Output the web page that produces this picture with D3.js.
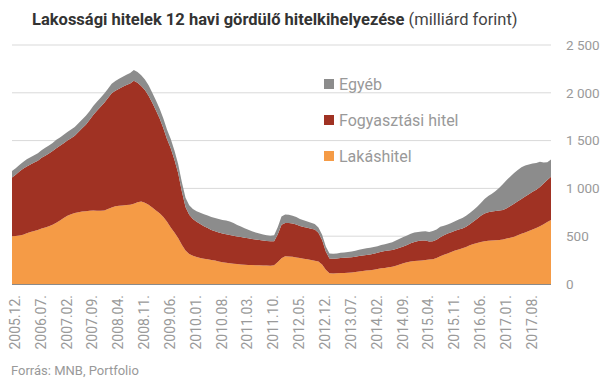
<!DOCTYPE html>
<html>
<head>
<meta charset="utf-8">
<script src="https://cdn.jsdelivr.net/npm/d3@7"></script>
<style>
  body { margin:0; background:#fff; font-family: Roboto, sans-serif; }
  .axis text { fill:#9a9a9a; font-size:13.5px; font-family: Roboto, sans-serif; }
  .xax text { font-size:14px; }
</style>
</head>
<body>
<div id="chart"></div>
<script>
// monthly rolling 12-month lending, 2005.12 .. 2018.02 (billion HUF)
const lakashitel = [
  500,503,508,515,530,545,555,565,580,592,605,620,
  640,665,690,715,730,742,750,758,762,765,768,766,
  765,770,785,800,812,818,822,826,830,840,855,862,
  850,830,800,770,740,700,650,590,540,480,410,350,
  315,295,282,272,265,258,252,245,236,228,222,216,
  212,208,205,202,200,198,196,195,194,193,192,195,
  230,270,290,288,284,278,272,265,258,250,244,236,
  205,150,112,110,112,114,116,118,120,125,130,135,
  140,144,150,156,164,168,174,180,192,205,218,228,
  235,240,244,246,250,255,260,272,290,305,320,335,
  350,362,374,388,405,418,428,440,448,452,455,458,
  460,465,475,485,495,510,525,540,555,570,585,605,
  625,648,670
];
const fogyasztasi = [
  615,640,668,690,700,706,715,725,740,750,760,770,
  780,780,782,785,795,810,840,870,905,950,1000,1045,
  1088,1125,1160,1195,1210,1225,1240,1255,1267,1287,1250,1210,
  1180,1140,1095,1045,990,930,865,830,760,680,560,455,
  410,385,370,355,340,328,314,308,304,300,298,297,
  294,290,286,282,278,274,270,266,262,258,254,252,
  290,350,349,350,349,345,335,332,330,328,325,300,
  255,190,156,155,156,158,158,159,160,161,162,162,
  163,165,167,170,174,176,176,175,175,175,175,180,
  190,200,205,208,205,190,187,190,200,205,207,207,
  207,207,207,210,220,236,255,275,290,298,303,306,
  308,310,318,330,345,355,365,375,385,395,402,410,
  425,440,451
];
const egyeb = [
  66,68,70,72,74,75,76,78,80,82,84,86,
  88,88,89,90,90,90,91,92,92,93,94,95,
  96,97,98,100,102,104,106,108,110,112,112,112,
  110,108,106,104,102,100,98,96,96,96,97,98,
  100,105,110,118,125,130,135,138,140,142,144,140,
  132,120,110,100,90,80,72,66,62,60,60,62,
  75,85,88,86,82,78,74,70,66,62,58,56,
  54,52,52,52,52,54,56,58,60,63,66,69,
  70,70,70,70,70,72,76,82,88,94,98,100,
  100,98,96,94,96,100,108,108,110,100,96,95,
  100,105,110,115,118,120,125,133,150,170,187,210,
  240,270,295,310,320,328,330,325,310,295,280,265,
  220,185,182
];
const tickLabels = ["2005.12.","2006.07.","2007.02.","2007.09.","2008.04.","2008.11.",
  "2009.06.","2010.01.","2010.08.","2011.03.","2011.10.","2012.05.","2012.12.",
  "2013.07.","2014.02.","2014.09.","2015.04.","2015.11.","2016.06.","2017.01.","2017.08."];
const yTicks = [0, 500, 1000, 1500, 2000, 2500];
const seriesNames = ["Lakáshitel", "Fogyasztási hitel", "Egyéb"];
const colors = ["#f59b46", "#a03223", "#8c8c8c"];

// month labels "YYYY.MM." starting 2005.12
const months = lakashitel.map((d, i) => {
  const m = 11 + i;
  const yy = 2005 + Math.floor(m / 12);
  const mm = (m % 12) + 1;
  return yy + "." + String(mm).padStart(2, "0") + ".";
});
const rows = months.map((m, i) => ({ month: m, l: lakashitel[i], f: fogyasztasi[i], e: egyeb[i] }));

const W = 605, H = 378;
const svg = d3.select("#chart").append("svg").attr("width", W).attr("height", H);

const x = d3.scalePoint().domain(months).range([12, 551]);
const y = d3.scaleLinear().domain([0, 2500]).range([284, 45]);

const loc = d3.formatLocale({ decimal: ",", thousands: " ", grouping: [3], currency: ["", ""] });
const fmt = loc.format(",d");

// grid
svg.append("g").selectAll("line").data(yTicks.slice(1)).enter().append("line")
  .attr("x1", 12).attr("x2", 551)
  .attr("y1", d => y(d)).attr("y2", d => y(d))
  .attr("stroke", "#d9d9d9").attr("stroke-width", 1);

const stack = d3.stack().keys(["l", "f", "e"]);
const layers = stack(rows);
const area = d3.area()
  .x(d => x(d.data.month))
  .y0(d => y(d[0]))
  .y1(d => y(d[1]));

svg.append("g").selectAll("path").data(layers).enter().append("path")
  .attr("d", area)
  .attr("fill", (d, i) => colors[i]);

// baseline
svg.append("line").attr("x1", 12).attr("x2", 551).attr("y1", y(0) + 0.5).attr("y2", y(0) + 0.5)
  .attr("stroke", "#8a8a8a").attr("stroke-width", 1);

// y axis on the right
const gy = svg.append("g").attr("class", "axis").attr("transform", "translate(555,0)")
  .call(d3.axisRight(y).tickValues(yTicks).tickFormat(fmt).tickSize(0).tickPadding(11));
gy.select(".domain").remove();

// x axis labels, rotated
const gx = svg.append("g").attr("class", "axis xax").attr("transform", `translate(0,${y(0)})`)
  .call(d3.axisBottom(x).tickValues(tickLabels).tickSize(0).tickFormat(d => d));
gx.select(".domain").remove();
gx.selectAll("text")
  .attr("text-anchor", "end")
  .attr("transform", "rotate(-90)")
  .attr("x", -11).attr("y", 0).attr("dy", "0.35em")
  .attr("dx", 0);
gx.selectAll(".tick").attr("transform", d => `translate(${x(d) + 3},0)`);

// title
const title = svg.append("text").attr("x", 32).attr("y", 25)
  .attr("font-family", "Roboto, sans-serif").attr("font-size", 16.5).attr("fill", "#333");
title.append("tspan").attr("font-weight", "bold").text("Lakossági hitelek 12 havi gördülő hitelkihelyezése");
title.append("tspan").attr("fill", "#444").text(" (milliárd forint)");

// legend
const legendItems = [2, 1, 0];
const lg = svg.append("g").attr("transform", "translate(324,84)");
legendItems.forEach((k, j) => {
  const row = lg.append("g").attr("transform", `translate(0,${j * 36})`);
  row.append("rect").attr("x", 0).attr("y", -5).attr("width", 10).attr("height", 10).attr("fill", colors[k]);
  row.append("text").attr("x", 15).attr("y", 0).attr("dy", "0.35em")
    .attr("font-family", "Roboto, sans-serif").attr("font-size", 16).attr("fill", "#999")
    .text(seriesNames[k]);
});

// source
svg.append("text").attr("x", 11).attr("y", 375)
  .attr("font-family", "Roboto, sans-serif").attr("font-size", 13).attr("fill", "#999")
  .text("Forrás: MNB, Portfolio");
</script>
</body>
</html>
